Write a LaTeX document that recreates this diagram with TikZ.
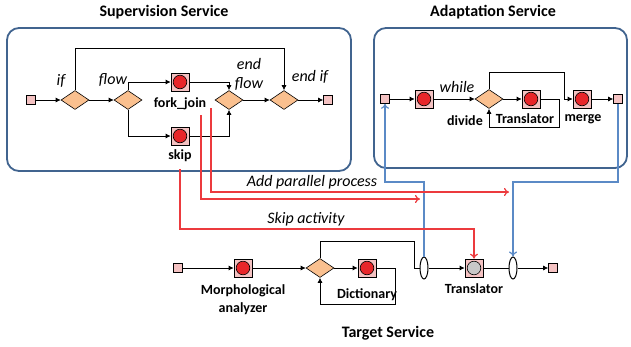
\documentclass[tikz,border=0pt]{standalone}
\usepackage{fontspec}
\setmainfont{Carlito}
\usetikzlibrary{shapes.geometric,arrows.meta}
\definecolor{pinkc}{HTML}{F4C2C2}
\definecolor{redc}{HTML}{E8262A}
\definecolor{orgc}{HTML}{FAC08F}
\definecolor{framec}{HTML}{41648F}
\definecolor{bluec}{HTML}{5B8AC6}
\definecolor{redl}{HTML}{EC3A3E}
\definecolor{greyc}{HTML}{C8C8C8}
\tikzset{
  sq/.style={rectangle,draw,fill=pinkc,minimum size=9pt,inner sep=0pt,line width=0.6pt},
  act/.style={rectangle,draw,fill=pinkc,minimum size=18pt,inner sep=0pt,line width=0.7pt,
    path picture={\filldraw[fill=#1,draw=black,line width=0.6pt] (path picture bounding box.center) circle (6.8pt);}},
  act/.default=redc,
  gw/.style={diamond,draw,fill=orgc,minimum width=28pt,minimum height=19pt,inner sep=0pt,line width=0.6pt},
  ell/.style={ellipse,draw,minimum width=8pt,minimum height=22pt,inner sep=0pt,line width=1pt},
  arr/.style={-{Latex[length=5pt,width=5pt]},line width=0.7pt},
  ln/.style={line width=0.7pt},
  blu/.style={draw=bluec,line width=1.2pt,-{To[length=5pt,width=8pt]}},
  rd/.style={draw=redl,line width=1.2pt,-{To[length=5pt,width=8pt]}},
  frame/.style={draw=framec,line width=1.8pt,rounded corners=12pt},
  ttl/.style={font=\fontsize{16}{18}\selectfont\bfseries},
  lbl/.style={font=\fontsize{14}{15}\selectfont\bfseries,inner sep=0pt},
  itl/.style={font=\fontsize{16}{17}\selectfont\itshape,inner sep=0pt},
}
\begin{document}
\begin{tikzpicture}[x=1pt,y=-1pt]
\useasboundingbox (0,0) rectangle (631,346);
% frames
\draw[frame] (7,28) rectangle (351,171);
\draw[frame] (374,28) rectangle (627,168);
\node[ttl] (tsup) at (164,12) {Supervision Service};
\node[ttl] (tad) at (493,12) {Adaptation Service};
\node[ttl] (ttg) at (388,333) {Target Service};

% supervision
\node[sq] (s1) at (31,100) {};
\node[gw] (if) at (75,100) {};
\node[gw] (flow) at (128,100) {};
\node[act] (fj) at (180,82) {};
\node[act] (sk) at (180,136) {};
\node[gw] (ef) at (229,100) {};
\node[gw] (ei) at (284,100) {};
\node[sq] (s2) at (328,100) {};
\coordinate (tl) at (75,48);
\draw[arr] (s1) -- (if);
\draw[arr] (if) -- (flow);
\draw[arr] (flow.north) |- (fj);
\draw[arr] (flow.south) |- (sk);
\draw[arr] (fj) -| (ef.north);
\draw[arr] (sk) -| (ef.south);
\draw[arr] (ef) -- (ei);
\draw[arr] (ei) -- (s2);
\draw[arr] (if.north) -- (tl) -| (ei.north);
\node[itl] (lif) at (61,81) {if};
\node[itl] (lflow) at (113,80) {flow};
\node[itl] (lend) at (249,64) {end};
\node[itl] (lendf) at (249,84) {flow};
\node[itl] (lei) at (310,77) {end if};
\node[lbl] (lfj) at (180,104) {fork\_join};
\node[lbl] (lsk) at (180,156) {skip};

% adaptation
\node[sq] (a1) at (385,99) {};
\node[act] (ab1) at (424,99) {};
\node[gw] (dv) at (489,99) {};
\node[act] (tr) at (531,99) {};
\node[act] (mg) at (582,99) {};
\node[sq] (a2) at (618,99) {};
\coordinate (lt) at (564,72);
\coordinate (lb) at (559,127);
\draw[arr] (a1) -- (ab1);
\draw[arr] (ab1) -- (dv);
\draw[arr] (dv) -- (tr);
\draw[arr] (mg) -- (a2);
\draw[arr] (dv.north) |- (lt) |- (mg);
\draw[arr] (tr) -| (lb) -| (dv.south);
\node[itl] (lwh) at (457,87) {while};
\node[lbl] (ldv) at (465,121) {divide};
\node[lbl] (ltr) at (525,119) {Translator};
\node[lbl] (lmg) at (583,119) {merge};

% target
\node[sq] (t1) at (178,268) {};
\node[act] (mo) at (243,268) {};
\node[gw] (td) at (320,268) {};
\node[act] (di) at (367,268) {};
\node[ell] (e1) at (424,268) {};
\node[act=greyc] (tt) at (474,268) {};
\node[ell] (e2) at (513,268) {};
\node[sq] (t2) at (553,268) {};
\coordinate (dl) at (395,304);
\coordinate (tl1) at (320,241);
\coordinate (tl2) at (414,241);
\draw[arr] (t1) -- (mo);
\draw[arr] (mo) -- (td);
\draw[arr] (td) -- (di);
\draw[arr] (di) -| (dl) -| (td.south);
\draw[ln] (td.north) -- (tl1) -- (tl2) |- (e1);
\draw[arr] (e1) -- (tt);
\draw[ln] (tt) -- (e2);
\draw[arr] (e2) -- (t2);
\node[lbl] (lmo1) at (243,291) {Morphological};
\node[lbl] (lmo2) at (243,309) {analyzer};
\node[lbl] (ldi) at (367,295) {Dictionary};
\node[lbl] (ltt) at (474,289) {Translator};

% blue
\coordinate (b1) at (424,182);
\coordinate (b2) at (385,182);
\coordinate (b3) at (618,182);
\coordinate (b4) at (513,182);
\draw[blu] (e1.north) -- (b1) -- (b2) -- (a1.south);
\draw[blu] (a2.south) -- (b3) -- (b4) -- (e2.north);

% red
\coordinate (r1) at (180,169);
\coordinate (r1b) at (180,229);
\coordinate (r1c) at (474,229);
\coordinate (r2) at (201,115);
\coordinate (r2b) at (201,199);
\coordinate (r2c) at (420,199);
\coordinate (r3) at (211,108);
\coordinate (r3b) at (211,192);
\coordinate (r3c) at (509,192);
\draw[rd] (r1) -- (r1b) -- (r1c) -- (tt.north);
\draw[rd] (r2) -- (r2b) -- (r2c);
\draw[rd] (r3) -- (r3b) -- (r3c);
\node[itl] (lap) at (312,182) {Add parallel process};
\node[itl] (lsa) at (306,219) {Skip activity};
\end{tikzpicture}
\end{document}
